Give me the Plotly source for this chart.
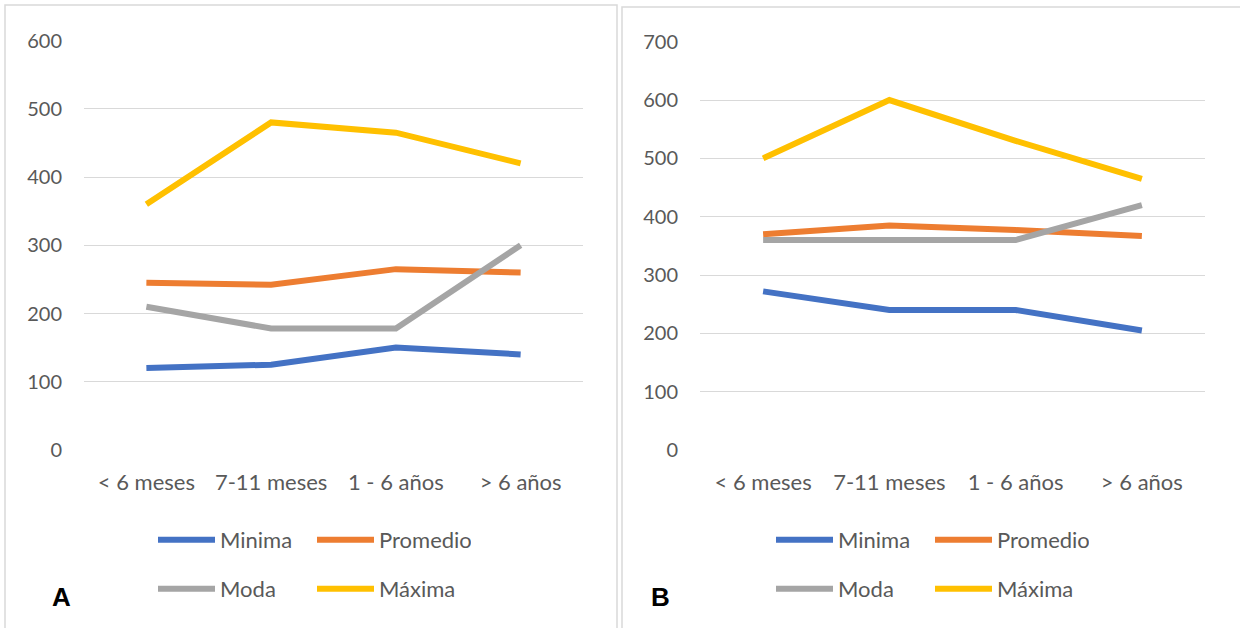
import plotly.graph_objects as go

categories = ["< 6 meses", "7-11 meses", "1 - 6 años", "> 6 años"]
series_names = ["Minima", "Promedio", "Moda", "Máxima"]
series_colors = ["#4472C4", "#ED7D31", "#A5A5A5", "#FFC000"]

a_minima = [120, 125, 150, 140]
a_promedio = [245, 242, 265, 260]
a_moda = [210, 178, 178, 300]
a_maxima = [360, 480, 465, 420]

b_minima = [272, 240, 240, 205]
b_promedio = [370, 385, 377, 367]
b_moda = [360, 360, 360, 420]
b_maxima = [500, 600, 530, 465]

a_ticks = [0, 100, 200, 300, 400, 500, 600]
b_ticks = [0, 100, 200, 300, 400, 500, 600, 700]

W, H = 1240, 628
FONT = "Lato"
FS_Y = 20
FS = 22
TXT = "#595959"
GRID = "#d9d9d9"


def px(x):
    return x / W


def py(y):
    return 1 - y / H


fig = go.Figure()

panels = [
    ("x", "y", [a_minima, a_promedio, a_moda, a_maxima], ["legend", "legend2"]),
    ("x2", "y2", [b_minima, b_promedio, b_moda, b_maxima], ["legend3", "legend4"]),
]
for xa, ya, data, legs in panels:
    for i, (name, col, vals) in enumerate(zip(series_names, series_colors, data)):
        fig.add_trace(go.Scatter(
            x=categories, y=vals, name=name, mode="lines",
            line=dict(color=col, width=6),
            xaxis=xa, yaxis=ya,
            legend=legs[0] if i < 2 else legs[1],
            hoverinfo="x+y+name",
        ))

xcommon = dict(showline=False, zeroline=False, ticks="", type="category",
               range=[-0.5, 3.5], showgrid=False, ticklabelstandoff=17,
               tickfont=dict(family=FONT, size=FS, color=TXT))
ycommon = dict(showline=False, zeroline=False, ticks="", showgrid=True,
               gridcolor=GRID, gridwidth=1.3, ticklabelstandoff=21,
               tickfont=dict(family=FONT, size=FS_Y, color=TXT))

fig.update_layout(
    width=W, height=H,
    margin=dict(l=0, r=0, t=0, b=0, autoexpand=False),
    paper_bgcolor="white", plot_bgcolor="white",
    font=dict(family=FONT, size=FS, color=TXT),
    xaxis=dict(domain=[px(84), px(583)], anchor="y", **xcommon),
    yaxis=dict(domain=[py(450), py(40.5)], anchor="x", range=[0, 600],
               tickvals=a_ticks, **ycommon),
    xaxis2=dict(domain=[px(700), px(1205)], anchor="y2", **xcommon),
    yaxis2=dict(domain=[py(450), py(41.7)], anchor="x2", range=[0, 700],
                tickvals=b_ticks, **ycommon),
)

leg_common = dict(orientation="h", xanchor="left", yanchor="middle",
                  entrywidth=87, itemwidth=57, bgcolor="rgba(0,0,0,0)",
                  font=dict(family=FONT, size=FS, color=TXT))
fig.update_layout(
    legend=dict(x=px(153), y=py(540), **leg_common),
    legend2=dict(x=px(153), y=py(589), **leg_common),
    legend3=dict(x=px(771), y=py(540), **leg_common),
    legend4=dict(x=px(771), y=py(589), **leg_common),
)

# panel borders
for x0, x1, y0 in [(5, 617, 5), (622, 1245, 7)]:
    fig.add_shape(type="rect", xref="paper", yref="paper",
                  x0=px(x0), x1=px(x1), y0=py(y0), y1=py(640),
                  line=dict(color=GRID, width=1.5), layer="below")

for lab, x in [("A", 61), ("B", 660)]:
    fig.add_annotation(text="<b>%s</b>" % lab, xref="paper", yref="paper",
                       x=px(x), y=py(597), xanchor="center", yanchor="middle",
                       showarrow=False,
                       font=dict(family="Liberation Sans", size=26, color="black"))

fig.write_html("out.html")
